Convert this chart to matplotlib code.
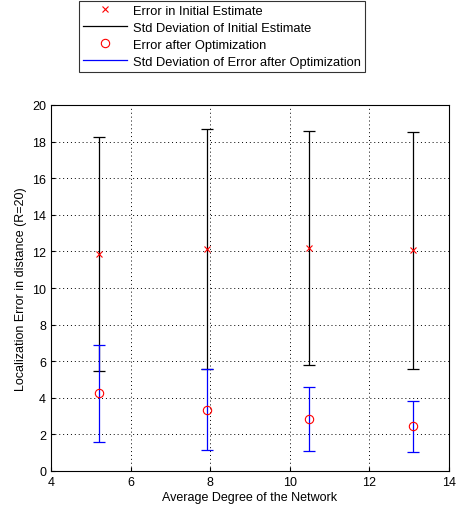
import matplotlib
matplotlib.use("Agg")
import matplotlib.pyplot as plt
from matplotlib.lines import Line2D

plt.rcParams['font.family'] = ['Liberation Sans', 'DejaVu Sans']

degree = [5.2, 7.92, 10.48, 13.1]
init_err = [11.85, 12.15, 12.2, 12.05]
init_std = [6.4, 6.55, 6.4, 6.5]
opt_err = [4.25, 3.35, 2.85, 2.45]
opt_std = [2.65, 2.2, 1.75, 1.4]

fig = plt.figure(figsize=(4.59, 5.10), dpi=100)
ax = fig.add_axes([51/459, 38/510, 398/459, 366/510])

ax.errorbar(degree, init_err, yerr=init_std, fmt='none', ecolor='black',
            elinewidth=0.9, capsize=4, capthick=0.9)
ax.errorbar(degree, opt_err, yerr=opt_std, fmt='none', ecolor='blue',
            elinewidth=0.9, capsize=4, capthick=0.9)
ax.plot(degree, init_err, 'x', color='red', markersize=5, markeredgewidth=0.8)
ax.plot(degree, opt_err, 'o', mfc='none', mec='red', markersize=6, markeredgewidth=0.8)

ax.set_xlim(4, 14)
ax.set_ylim(0, 20)
ax.set_xticks([4, 6, 8, 10, 12, 14])
ax.set_yticks(range(0, 21, 2))
ax.grid(True, linestyle=(0, (1, 3)), color='black', linewidth=0.7)
ax.tick_params(direction='in', labelsize=9, length=3)
ax.set_xlabel('Average Degree of the Network', fontsize=9, labelpad=2)
ax.set_ylabel('Localization Error in distance (R=20)', fontsize=9, labelpad=4)

handles = [
    Line2D([], [], linestyle='none', marker='x', color='red', markersize=5, markeredgewidth=0.8),
    Line2D([], [], color='black', linewidth=0.9),
    Line2D([], [], linestyle='none', marker='o', mfc='none', mec='red', markersize=6, markeredgewidth=0.8),
    Line2D([], [], color='blue', linewidth=0.9),
]
labels = ['Error in Initial Estimate', 'Std Deviation of Initial Estimate',
          'Error after Optimization', 'Std Deviation of Error after Optimization']
leg = fig.legend(handles, labels, loc='upper left', bbox_to_anchor=(79/459, 1 - 2/510),
                 fontsize=9.3, frameon=True, fancybox=False, edgecolor='black',
                 handlelength=3.4, handletextpad=0.5, borderpad=0.3, labelspacing=0.38,
                 borderaxespad=0)
leg.get_frame().set_linewidth(0.8)

fig.savefig('out.png', dpi=100)
